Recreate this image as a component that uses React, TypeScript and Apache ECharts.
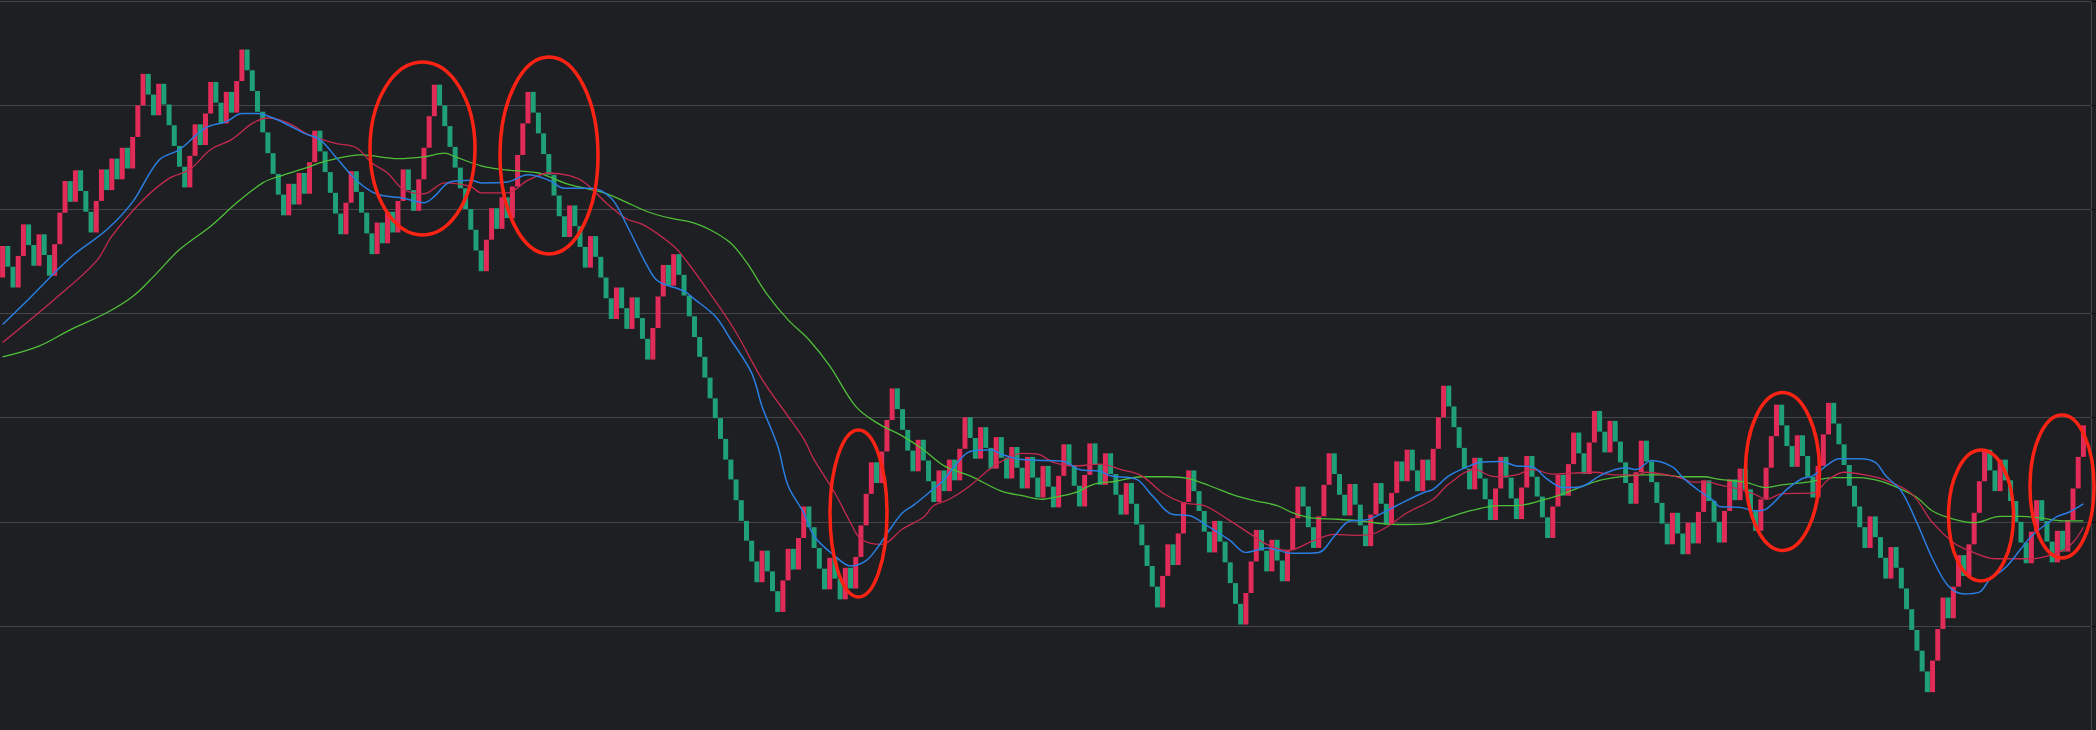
import React, { useEffect, useRef } from "react";
import * as echarts from "echarts";

// Renko-style bricks: each brick opens at the previous close.
const firstOpen = 502;
const brickCloses = [
  537, 514, 491, 526, 561, 538, 515, 550, 527, 504,
  539, 574, 609, 586, 621, 598, 575, 552, 587, 622,
  599, 634, 611, 646, 623, 658, 693, 728, 705, 682,
  717, 694, 671, 648, 625, 602, 637, 672, 649, 684,
  719, 696, 673, 708, 685, 720, 755, 732, 709, 686,
  663, 640, 617, 594, 571, 606, 583, 618, 595, 630,
  665, 642, 619, 596, 573, 550, 585, 620, 597, 574,
  551, 528, 563, 540, 575, 552, 587, 622, 599, 576,
  611, 646, 681, 716, 693, 670, 647, 624, 601, 578,
  555, 532, 509, 544, 579, 556, 591, 568, 603, 638,
  673, 708, 685, 662, 639, 616, 593, 570, 547, 582,
  559, 536, 513, 548, 525, 502, 479, 456, 491, 468,
  445, 480, 457, 434, 411, 446, 481, 516, 493, 528,
  505, 482, 459, 436, 414, 391, 368, 346, 323, 300,
  278, 255, 232, 210, 187, 164, 199, 176, 154, 131,
  166, 201, 178, 213, 248, 225, 202, 179, 156, 191,
  168, 145, 180, 157, 192, 227, 262, 297, 274, 309,
  344, 379, 356, 333, 310, 287, 322, 299, 276, 253,
  288, 265, 300, 277, 312, 347, 324, 301, 336, 313,
  290, 325, 302, 279, 314, 291, 268, 303, 280, 258,
  293, 270, 247, 282, 317, 294, 271, 248, 283, 318,
  295, 272, 307, 284, 261, 239, 274, 251, 228, 205,
  182, 159, 136, 171, 206, 183, 218, 253, 288, 265,
  243, 220, 197, 232, 209, 186, 163, 140, 117, 152,
  187, 222, 199, 176, 211, 188, 165, 200, 235, 270,
  248, 225, 202, 237, 272, 307, 284, 261, 238, 273,
  250, 227, 204, 239, 274, 251, 228, 263, 298, 276,
  311, 288, 265, 300, 277, 312, 347, 382, 359, 336,
  313, 290, 267, 302, 279, 256, 233, 268, 303, 280,
  257, 234, 269, 304, 281, 259, 236, 213, 248, 283,
  260, 295, 330, 307, 284, 319, 354, 331, 308, 343,
  320, 297, 274, 251, 286, 321, 298, 275, 252, 229,
  206, 241, 218, 195, 230, 207, 242, 277, 254, 231,
  208, 243, 278, 255, 290, 267, 244, 221, 256, 291,
  326, 361, 338, 315, 292, 327, 304, 281, 258, 293,
  328, 363, 340, 317, 294, 271, 248, 225, 202, 237,
  214, 191, 168, 203, 180, 157, 134, 111, 88, 65,
  42, 77, 112, 147, 124, 159, 194, 171, 206, 241,
  276, 311, 288, 265, 300, 277, 254, 231, 208, 185,
  220, 255, 232, 209, 186, 221, 198, 233, 268, 303,
  338,
];

// Moving averages: [brick index, value]
const blueMA = [[0,450],[5,478],[13,524],[20,555],[25,586],[30,632],[34,644],[39,668],[43,675],[46,684],[49,684],[52,679],[55,671],[58,662],[61,655],[64,636],[68,610],[71,597],[73,593],[77,590],[81,585],[83,592],[86,608],[90,610],[92,607],[97,608],[101,616],[105,610],[108,601],[113,601],[117,590],[120,560],[124,514],[126,498],[131,487],[133,478],[137,459],[140,433],[144,396],[146,359],[149,315],[151,271],[154,241],[156,215],[160,193],[163,182],[166,188],[168,201],[171,226],[173,241],[175,249],[178,263],[181,278],[183,293],[186,309],[190,311],[192,306],[196,300],[204,298],[207,289],[211,287],[213,282],[218,278],[221,260],[225,239],[228,238],[232,225],[236,210],[239,197],[243,202],[248,196],[253,197],[256,215],[259,232],[262,233],[266,243],[269,252],[273,263],[275,267],[278,282],[282,293],[284,297],[288,298],[291,293],[294,292],[297,278],[300,269],[302,269],[304,271],[307,282],[310,289],[312,291],[314,289],[317,299],[321,292],[323,280],[326,266],[329,254],[330,248],[334,247],[337,243],[339,245],[343,267],[346,279],[348,282],[351,295],[353,301],[357,301],[360,297],[362,282],[365,265],[368,230],[371,190],[374,160],[377,151],[380,153],[382,167],[385,180],[388,201],[390,215],[393,229],[395,237],[397,241],[400,251]];

const redMA = [[0,430],[10,478],[18,520],[21,548],[27,588],[32,612],[36,622],[40,644],[44,655],[48,673],[51,679],[55,673],[59,660],[64,651],[68,646],[71,629],[74,618],[77,600],[81,595],[85,607],[90,603],[92,596],[97,596],[101,610],[105,618],[109,615],[112,607],[116,585],[120,567],[123,561],[127,546],[130,531],[137,476],[141,441],[146,389],[151,348],[154,323],[156,300],[160,263],[163,230],[165,212],[169,206],[173,223],[177,236],[179,249],[182,256],[186,271],[189,286],[192,298],[196,307],[199,306],[202,297],[206,293],[211,295],[215,289],[219,282],[223,263],[227,252],[231,249],[236,232],[240,217],[243,206],[247,199],[252,210],[256,217],[260,216],[263,217],[266,225],[270,241],[275,256],[278,273],[283,289],[286,282],[288,281],[291,283],[294,289],[298,284],[302,285],[306,286],[310,283],[314,283],[316,286],[320,283],[323,279],[325,275],[328,275],[330,272],[334,267],[337,261],[339,256],[342,262],[348,263],[351,278],[354,286],[358,283],[362,277],[367,262],[371,230],[375,208],[378,199],[383,190],[387,190],[390,190],[393,193],[396,199],[398,208],[400,225]];

const greenMA = [[0,414],[7,426],[13,444],[20,463],[25,481],[29,503],[34,533],[40,559],[45,585],[50,607],[53,614],[58,623],[62,631],[69,638],[76,634],[81,636],[85,640],[87,636],[92,626],[96,622],[103,618],[105,614],[109,605],[115,597],[119,588],[124,575],[129,567],[132,564],[136,555],[140,540],[143,519],[147,483],[151,455],[155,433],[159,404],[164,359],[168,341],[173,326],[177,311],[181,293],[186,282],[192,265],[196,260],[200,256],[202,258],[206,263],[210,273],[214,276],[219,281],[224,281],[228,279],[232,271],[237,260],[241,254],[245,249],[248,241],[252,235],[256,234],[261,232],[265,229],[269,228],[274,229],[278,236],[282,243],[286,248],[288,249],[291,249],[296,255],[300,262],[303,269],[307,277],[311,281],[315,283],[319,283],[323,281],[327,281],[330,278],[335,275],[339,269],[342,272],[347,275],[352,280],[357,280],[361,276],[365,267],[368,258],[371,243],[375,234],[379,230],[384,237],[388,237],[392,235],[396,232],[400,232]];

const yMin = 0;
const yMax = 808.5;
const yStep = 115.5;

// Hand-drawn highlight ellipses (pixel annotations)
const highlightEllipses = [
  { cx: 422.5, cy: 148.5, rx: 52.5, ry: 86.5 },
  { cx: 549, cy: 155.5, rx: 49, ry: 98.5 },
  { cx: 858.5, cy: 513.5, rx: 28.5, ry: 83.5 },
  { cx: 1782.5, cy: 471.5, rx: 37, ry: 79 },
  { cx: 1981, cy: 515.5, rx: 32.5, ry: 65.5 },
  { cx: 2062, cy: 486.5, rx: 32, ry: 71.5 },
];

const BG = "#1e1f23";
const GRID = "#45464b";
const UP = "#e12b58";
const DOWN = "#1fa078";

export default function App() {
  const ref = useRef<HTMLDivElement>(null);

  useEffect(() => {
    document.body.style.margin = "0";
    document.body.style.background = BG;
    const el = ref.current;
    if (!el) return;
    const chart = echarts.init(el, null, { renderer: "svg" });

    const categories = brickCloses.map((_, i) => String(i + 1)).concat([" "]);
    // [index, open, close]
    const bricks = brickCloses.map((c, i) => {
      const o = i === 0 ? firstOpen : brickCloses[i - 1];
      return [i, o, c];
    });

    const maLine = (data: number[][], color: string, width: number) => ({
      type: "line",
      data,
      smooth: 0.35,
      showSymbol: false,
      symbol: "none",
      silent: true,
      z: 5,
      lineStyle: { color, width },
    });

    chart.setOption({
      animation: false,
      backgroundColor: BG,
      grid: { left: -4.2, right: 4.8, top: 1.3, bottom: -1.2 },
      xAxis: {
        type: "category",
        data: categories,
        boundaryGap: true,
        axisLine: { show: false },
        axisTick: { show: false },
        axisLabel: { show: false },
        splitLine: { show: false },
      },
      yAxis: {
        type: "value",
        position: "right",
        min: yMin,
        max: yMax,
        interval: yStep,
        axisLine: { show: true, lineStyle: { color: GRID, width: 1 } },
        axisTick: { show: true, length: 5, lineStyle: { color: "#0c0d0f" } },
        axisLabel: { show: false },
        splitLine: { show: true, lineStyle: { color: GRID, width: 1 } },
      },
      graphic: highlightEllipses.map((e) => ({
        type: "ellipse",
        shape: e,
        silent: true,
        z: 100,
        style: { fill: "none", stroke: "#fa2314", lineWidth: 3.5 },
      })),
      series: [
        {
          type: "custom",
          data: bricks,
          encode: { x: 0, y: [1, 2] },
          z: 2,
          silent: true,
          renderItem: (params: any, api: any) => {
            const idx = api.value(0);
            const o = api.value(1);
            const c = api.value(2);
            const pO = api.coord([idx, o]);
            const pC = api.coord([idx, c]);
            const band = api.size([1, 0])[0];
            const w = band * 0.96;
            return {
              type: "rect",
              shape: {
                x: pO[0] - w / 2,
                y: Math.min(pO[1], pC[1]),
                width: w,
                height: Math.abs(pO[1] - pC[1]),
              },
              style: { fill: c > o ? UP : DOWN },
            };
          },
        },
        maLine(greenMA, "#4fbf3a", 1.3),
        maLine(redMA, "#c42a4f", 1.3),
        maLine(blueMA, "#2a7ee2", 1.5),
      ],
    });

    return () => chart.dispose();
  }, []);

  return (
    <div
      ref={ref}
      style={{ position: "fixed", left: 0, top: 0, width: 2096, height: 730 }}
    />
  );
}
